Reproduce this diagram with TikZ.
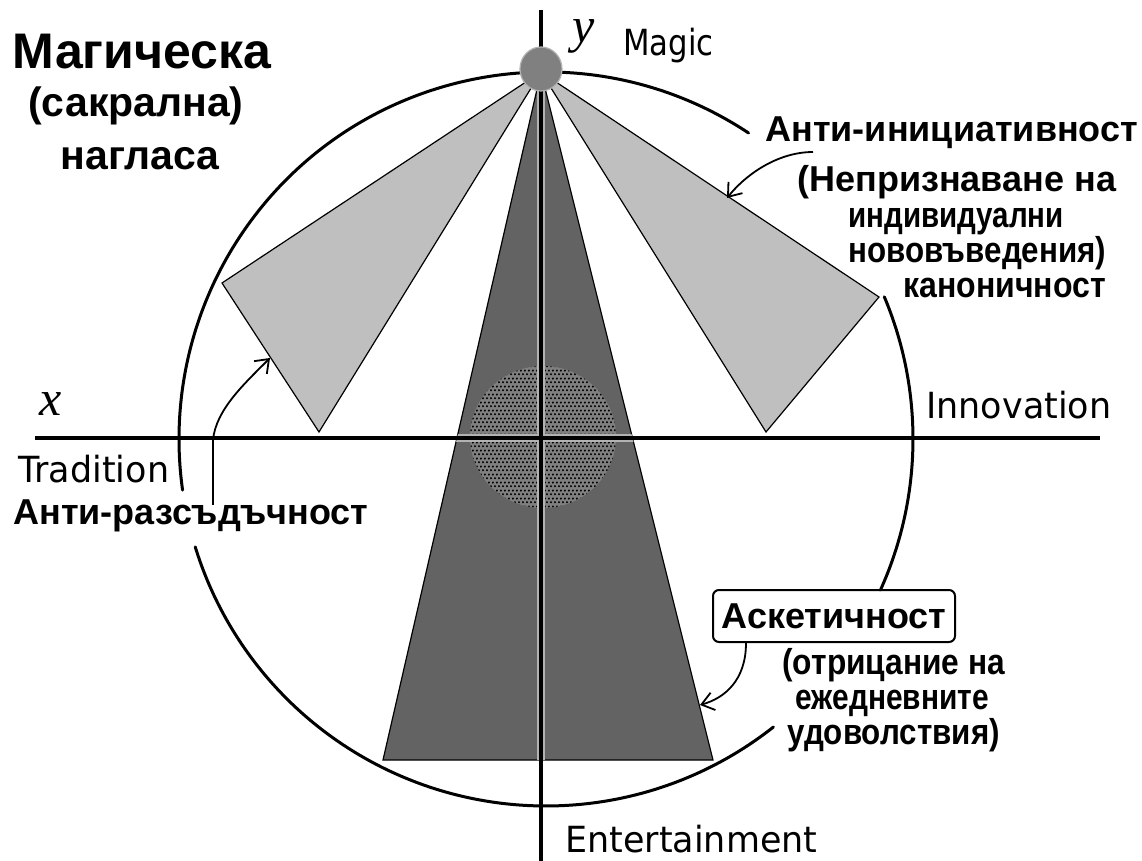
\documentclass[tikz,border=0pt]{standalone}
\usepackage{fontspec}
\setmainfont{Liberation Sans}
\newfontfamily\labelfont{DejaVu Sans}[FakeStretch=0.97]
\newfontfamily\axisfont{Liberation Serif}
\usetikzlibrary{arrows.meta,patterns.meta,shapes.geometric,calc}

% horizontal squeeze for a single text line
\newcommand{\narrowto}[2]{\scalebox{#1}[1]{#2}}

% fine hexagonal dot screen for the central zone
\tikzdeclarepattern{
  name=finedots,
  type=uncolored,
  bounding box={(0pt,0pt) and (2.2pt,3.8pt)},
  tile size={(2.2pt,3.8pt)},
  code={
    \fill (0.55pt,0.95pt) circle (0.62pt);
    \fill (1.65pt,2.85pt) circle (0.62pt);
  }
}

\tikzset{
  ring/.style={line width=1.5pt, line cap=round},
  axisline/.style={line width=1.9pt},
  axishalo/.style={line width=4.2pt, black!30},
  lightsector/.style={fill=black!25, draw=black, line width=0.6pt, line join=miter},
  darksector/.style={fill=black!61, draw=black, line width=0.6pt},
  magicdot/.style={ellipse, fill=black!50, draw=black!30, line width=0.6pt,
    minimum width=21pt, minimum height=22pt, inner sep=0pt},
  plain/.style={font=\labelfont\fontsize{18}{20}\selectfont, inner sep=0pt, anchor=base west},
  note/.style={font=\bfseries\fontsize{18}{21}\selectfont, inner sep=0pt, anchor=base west},
  titlebig/.style={font=\bfseries\fontsize{25}{30}\selectfont, inner sep=0pt},
  titlesub/.style={font=\bfseries\fontsize{20.5}{24}\selectfont, inner sep=0pt},
  axisname/.style={font=\axisfont\itshape\fontsize{25}{30}\selectfont, inner sep=0pt},
  framed/.style={draw, line width=1pt, rounded corners=3pt,
    minimum width=121pt, minimum height=26pt, inner sep=0pt,
    font=\bfseries\fontsize{18}{21}\selectfont},
  callout/.style={line width=0.9pt, -{Straight Barb[length=6pt,width=9pt]}},
}

\begin{document}
\begin{tikzpicture}[x=0.5pt,y=-0.5pt]
  \useasboundingbox (0,0) rectangle (1142,861);
  \fill[white] (0,0) rectangle (1142,861);

  % key points
  \coordinate (O) at (546,439);      % centre of the ring
  \coordinate (apex) at (541,72);
  \coordinate (xl) at (35,438);
  \coordinate (xr) at (1100,438);
  \coordinate (yt) at (541,10);
  \coordinate (yb) at (541,861);

  % light sectors
  \draw[lightsector] (apex) -- (222,283) -- (319,432) -- cycle;
  \draw[lightsector] (apex) -- (879,297) -- (766,432) -- cycle;

  % dark sector
  \draw[darksector] (apex) -- (383,760) -- (713,760) -- cycle;

  % dotted core
  \fill[black!50] (543,437) ellipse [x radius=73, y radius=71];
  \fill[pattern=finedots, pattern color=black] (543,437) ellipse [x radius=73, y radius=71];

  % pale halo along the axes inside the dark sector
  \begin{scope}
    \clip (apex) -- (383,760) -- (713,760) -- cycle;
    \draw[axishalo] (xl) -- (xr);
    \draw[axishalo] (yt) -- (yb);
  \end{scope}

  % axes
  \draw[axisline] (xl) -- (xr);
  \draw[axisline] (yt) -- (yb);

  % ring, broken where labels sit
  \draw[ring] ($(O)+(-56.5:367)$) arc[start angle=-56.5, end angle=-188, radius=367];
  \draw[ring] ($(O)+(162.9:367)$) arc[start angle=162.9, end angle=51.7, radius=367];
  \draw[ring] ($(O)+(24.3:367)$) arc[start angle=24.3, end angle=-22.8, radius=367];

  % pole marker
  \node[magicdot] (dot) at (541,69) {};

  % axis names
  \node[axisname] (ylab) at (584,36) {y};
  \node[axisname] (xlab) at (51,404) {x};
  \node[plain] (magic) at (623,56) {\narrowto{0.88}{Magic}};
  \node[plain] (innov) at (926,419) {Innovation};
  \node[plain] (trad) at (18,483) {Tradition};
  \node[plain] (ent) at (565,852) {Entertainment};

  % title
  \node[titlebig] (mag) at (142,52) {Магическа};
  \node[titlesub] (sak) at (136,106) {(сакрална)};
  \node[titlesub] (nag) at (140,159) {нагласа};

  % upper right notes
  \node[note] (ai) at (765,142) {Анти-инициативност};
  \node[note] (ai1) at (797,192) {(Непризнаване на};
  \node[note] (ai2) at (848,228) {\narrowto{0.82}{индивидуални}};
  \node[note] (ai3) at (848,263) {\narrowto{0.87}{нововъведения)}};
  \node[note] (ai4) at (903,298) {\narrowto{0.89}{каноничност}};

  % left note
  \node[note] (ar) at (13,524) {Анти-разсъдъчност};

  % lower right notes
  \node[framed] (asc) at (834,616) {Аскетичност};
  \node[note] (as1) at (782,675) {\narrowto{0.88}{(отрицание на}};
  \node[note] (as2) at (795,709) {\narrowto{0.83}{ежедневните}};
  \node[note] (as3) at (787,744) {\narrowto{0.87}{удоволствия)}};

  % pointers
  \coordinate (p1s) at (813,152);
  \coordinate (p1e) at (727,198);
  \draw[callout] (p1s) .. controls (780,152) and (748,172) .. (p1e);

  \coordinate (p2s) at (213,505);
  \coordinate (p2e) at (270,358);
  \draw[callout] (p2s) -- (213,440) .. controls (216,410) and (243,385) .. (p2e);

  \coordinate (p3e) at (700,705);
  \draw[callout] ($(asc.south west)+(34,0)$) .. controls (746,680) and (725,698) .. (p3e);
\end{tikzpicture}
\end{document}
